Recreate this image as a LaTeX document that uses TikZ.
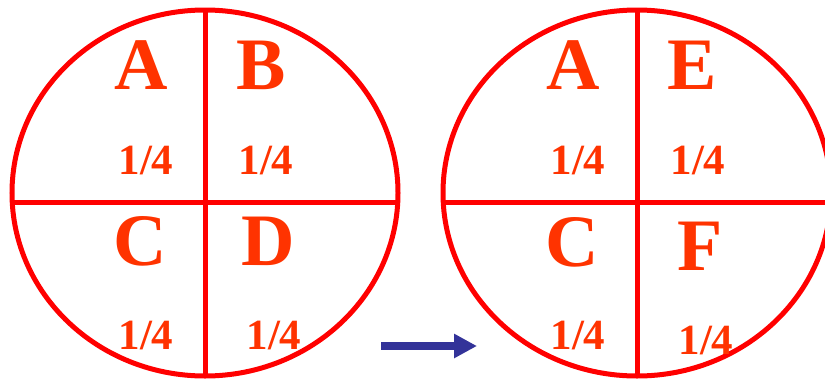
\documentclass[tikz,border=0pt]{standalone}
\usepackage{fontspec}
\setmainfont{Liberation Serif}
\usepackage{tikz}
\usetikzlibrary{arrows.meta}

\definecolor{rimred}{RGB}{255,0,0}
\definecolor{partred}{RGB}{255,51,0}
\definecolor{arrowblue}{RGB}{51,51,153}

\begin{document}
\begin{tikzpicture}[x=1pt, y=-1pt,
                    rim/.style={draw=rimred, line width=5pt},
                    part/.style={text=partred, anchor=base, inner sep=0pt,
                            font=\fontsize{74}{74}\selectfont\bfseries},
                    share/.style={text=partred, anchor=base, inner sep=0pt,
                            font=\fontsize{43}{43}\selectfont\bfseries},
                    arr/.style={-{Triangle[length=23pt, width=23pt]}, line width=8pt, draw=arrowblue}]
                \useasboundingbox (0,0) rectangle (825,378);
                % before
                \draw[rim] (205,193) ellipse [x radius=193pt, y radius=183pt];
                \draw[rim] (205,10) -- (205,378);
                \draw[rim] (12,202) -- (398,202);
                \node[part] (a1) at (141,89) {A};
                \node[part] (b1) at (261,89) {B};
                \node[part] (c1) at (140,265) {C};
                \node[part] (d1) at (268,265) {D};
                \node[share] (qa1) at (146,174) {1/4};
                \node[share] (qb1) at (266,174) {1/4};
                \node[share] (qc1) at (146,349) {1/4};
                \node[share] (qd1) at (274,349) {1/4};
                % after
                \draw[rim] (637,193) ellipse [x radius=194pt, y radius=183pt];
                \draw[rim] (637,10) -- (637,378);
                \draw[rim] (444,202) -- (831,202);
                \node[part] (a2) at (573,89) {A};
                \node[part] (e2) at (692,89) {E};
                \node[part] (c2) at (572,266) {C};
                \node[part] (f2) at (700,270) {F};
                \node[share] (qa2) at (578,174) {1/4};
                \node[share] (qe2) at (698,174) {1/4};
                \node[share] (qc2) at (578,349) {1/4};
                \node[share] (qf2) at (706,354) {1/4};
                % step
                \coordinate (from) at (381,346);
                \coordinate (to) at (477,346);
                \draw[arr] (from) -- (to);
            \end{tikzpicture}
\end{document}
